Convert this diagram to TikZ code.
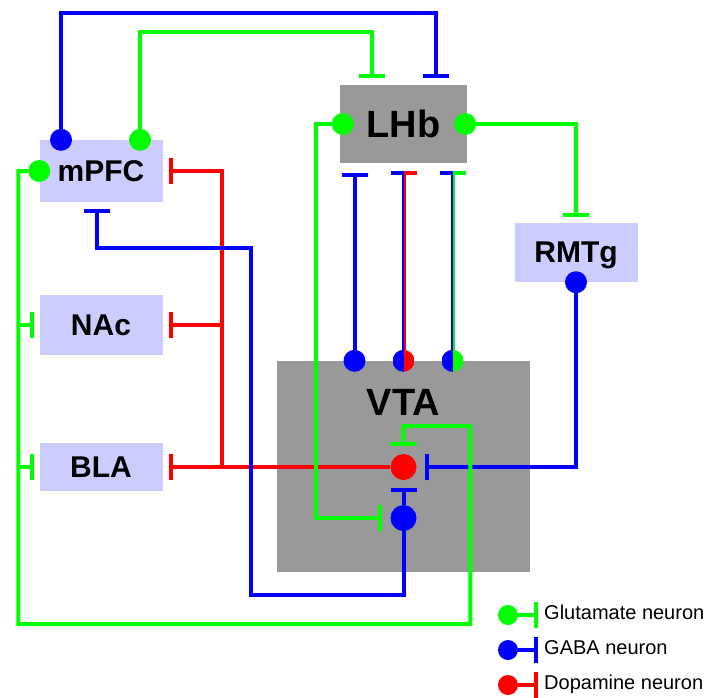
\documentclass[tikz,border=0pt]{standalone}
\usepackage{fontspec}
\setmainfont{Liberation Sans}
\usepackage{xcolor}
\usetikzlibrary{arrows.meta,positioning}

\definecolor{gluC}{HTML}{00FF00}
\definecolor{gabaC}{HTML}{0000FF}
\definecolor{dopaC}{HTML}{FF0000}
\definecolor{areaC}{HTML}{CCCCFF}
\definecolor{coreC}{HTML}{999999}

\begin{document}
\begin{tikzpicture}[x=1pt, y=-1pt,
  region/.style={fill=areaC, minimum width=123pt, inner sep=0pt, text depth=0pt, font=\fontsize{30}{36}\selectfont\bfseries},
  hub/.style={fill=coreC, inner sep=0pt, text depth=0pt, font=\fontsize{38}{44}\selectfont\bfseries},
  glu/.style={draw=gluC, line width=4pt},
  gab/.style={draw=gabaC, line width=4pt},
  dop/.style={draw=dopaC, line width=4pt},
  inh/.style={-{Bar[width=26pt]}},
  soma/.style={circle, inner sep=0pt, minimum size=22pt},
  halves/.style 2 args={path picture={
    \fill[#1] (path picture bounding box.south west) rectangle (path picture bounding box.north);
    \fill[#2] (path picture bounding box.south) rectangle (path picture bounding box.north east);}},
  legend/.style={inner sep=0pt, font=\fontsize{20}{24}\selectfont}]
\useasboundingbox (0,0) rectangle (705,697);

% brain areas
\node[region, minimum height=62pt] (mpfc) at (101,171) {mPFC};
\node[region, minimum height=60pt] (nac) at (101,325) {NAc};
\node[region, minimum height=48pt] (bla) at (101,467) {BLA};
\node[region, minimum height=59pt] (rmtg) at (576,252.5) {RMTg};
\node[hub, minimum width=127pt, minimum height=78pt] (lhb) at (403.5,124) {LHb};
\node[hub, minimum width=253pt, minimum height=211pt] (vta) at (403.5,466.5) {};
\node[hub, fill=none] (vtalbl) at (403.5,402) {VTA};

% cell bodies
\node[soma, fill=gabaC] (pfcB) at ([xshift=-40pt]mpfc.north) {};
\node[soma, fill=gluC] (pfcG) at ([xshift=39pt]mpfc.north) {};
\node[soma, fill=gluC] (pfcW) at (mpfc.west) {};
\node[soma, fill=gluC] (lhbW) at ([xshift=3pt]lhb.west) {};
\node[soma, fill=gluC] (lhbE) at ([xshift=-2pt]lhb.east) {};
\node[soma, fill=gabaC] (rmtgB) at (rmtg.south) {};
\node[soma, fill=gabaC] (vtaB) at ([xshift=-49pt]vta.north) {};
\node[soma, halves={gabaC}{dopaC}] (vtaD) at (vta.north) {};
\node[soma, halves={gabaC}{gluC}] (vtaG) at ([xshift=49pt]vta.north) {};
\node[soma, minimum size=26pt, fill=dopaC] (da) at (403.5,467) {};
\node[soma, minimum size=26pt, fill=gabaC] (gn) at (403.5,518) {};

% dopamine
\coordinate (rj) at (222,467);
\draw[dop, inh, shorten >=6pt] (da) -- (bla.east);
\draw[dop, inh, shorten >=6pt] (rj) |- (mpfc.east);
\draw[dop, inh, shorten >=6pt] (rj |- nac) -- (nac.east);

% GABA
\draw[gab, inh, shorten >=7pt] (pfcB) -- ++(0,-127) -| ([xshift=32pt]lhb.north);
\draw[gab, inh, shorten >=7pt] (gn) -- ++(0,77) -| ++(-152.5,-347) -| ([xshift=-4pt]mpfc.south);
\draw[gab, inh, shorten >=8pt] (gn) -- (da);
\draw[gab, inh, shorten >=8pt] (rmtgB) |- (da);
\draw[gab, inh, shorten >=10pt] (vtaB) -- (vtaB |- lhb.south);

% glutamate
\draw[glu, inh, shorten >=7pt] (pfcG) -- ++(0,-108) -| ([xshift=-32pt]lhb.north);
\coordinate (gl) at ([xshift=-21pt]pfcW.center);
\draw[glu, inh, shorten >=8pt] (pfcW) -- (gl) -- ++(0,453) -- ++(452,0) |- ++(-67,-198) -- (da);
\draw[glu, inh, shorten >=5pt] (gl |- nac) -- (nac.west);
\draw[glu, inh, shorten >=5pt] (gl |- bla) -- (bla.west);
\draw[glu, inh, shorten >=8pt] (lhbW) -- ++(-27,0) |- (gn);
\draw[glu, inh, shorten >=6pt] (lhbE) -| (rmtg.north);

% mixed LHb inputs
\coordinate (t2) at ([yshift=-10pt]vtaD |- lhb.south);
\draw[gabaC, line width=2pt] ([xshift=-1pt]vtaD.north) -- ([xshift=-1pt]t2);
\draw[dopaC, line width=2pt] ([xshift=1pt]vtaD.north) -- ([xshift=1pt]t2);
\draw[gab] ([xshift=-13pt]t2) -- (t2);
\draw[dop] (t2) -- ([xshift=13pt]t2);
\coordinate (t3) at ([yshift=-10pt]vtaG |- lhb.south);
\draw[gabaC, line width=2pt] ([xshift=-1pt]vtaG.north) -- ([xshift=-1pt]t3);
\draw[gluC, line width=2pt] ([xshift=1pt]vtaG.north) -- ([xshift=1pt]t3);
\draw[gab] ([xshift=-13pt]t3) -- (t3);
\draw[glu] (t3) -- ([xshift=13pt]t3);

% legend
\node[soma, minimum size=20pt, fill=gluC] (lgG) at (508,615) {};
\draw[glu, inh] (lgG) -- ++(30,0);
\node[legend, anchor=base west] (lgGtxt) at (544,619.5) {Glutamate neuron};
\node[soma, minimum size=20pt, fill=gabaC] (lgB) at (508,650) {};
\draw[gab, inh] (lgB) -- ++(30,0);
\node[legend, anchor=base west] (lgBtxt) at (544,654.5) {GABA neuron};
\node[soma, minimum size=20pt, fill=dopaC] (lgD) at (508,685) {};
\draw[dop, inh] (lgD) -- ++(30,0);
\node[legend, anchor=base west] (lgDtxt) at (544,689.5) {Dopamine neuron};
\end{tikzpicture}
\end{document}
